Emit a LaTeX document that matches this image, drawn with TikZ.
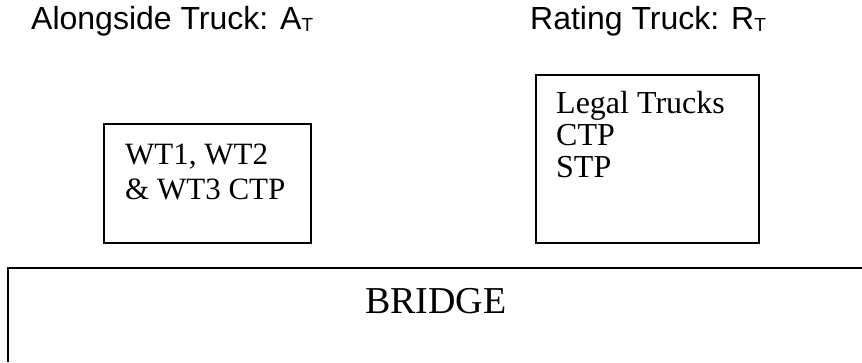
\documentclass[tikz,border=0pt]{standalone}
\usepackage{fontspec}
\setmainfont{Liberation Serif}
\newfontfamily\headfont{Liberation Sans}
\newcommand{\subT}{\raisebox{-2pt}{\fontsize{19}{19}\selectfont T}}
\begin{document}
\begin{tikzpicture}[x=1pt,y=-1pt,
  box/.style={draw, line width=1.5pt, rectangle, inner sep=0pt},
  boxtext/.style={anchor=north west, align=left, inner sep=0pt},
  heading/.style={anchor=base west, inner sep=0pt,
    font=\headfont\fontsize{32}{36}\selectfont}]
\useasboundingbox (0,0) rectangle (862,362);

% headings
\node[heading] (alongside) at (31,29) {Alongside Truck: A\subT};
\node[heading] (rating) at (530,29) {Rating Truck: R\subT};

% truck boxes
\node[box, minimum width=207pt, minimum height=119pt] (alongbox) at (207.5,183.5) {};
\node[boxtext, font=\fontsize{31}{35}\selectfont] (alongtext) at (125,144) {WT1, WT2\\\& WT3 CTP};

\node[box, minimum width=223pt, minimum height=168pt] (ratebox) at (647.5,159) {};
\node[boxtext, font=\fontsize{32}{32}\selectfont] (ratetext) at (556,91) {Legal Trucks\\CTP\\STP};

% bridge deck, open at the right and bottom
\coordinate (deckbl) at (8,362);
\coordinate (decktl) at (8,268);
\coordinate (decktr) at (862,268);
\draw[line width=1.5pt] (deckbl) -- (decktl) -- (decktr);
\node[anchor=base west, inner sep=0pt, font=\fontsize{38}{44}\selectfont] (bridge) at (365,313) {BRIDGE};
\end{tikzpicture}
\end{document}
